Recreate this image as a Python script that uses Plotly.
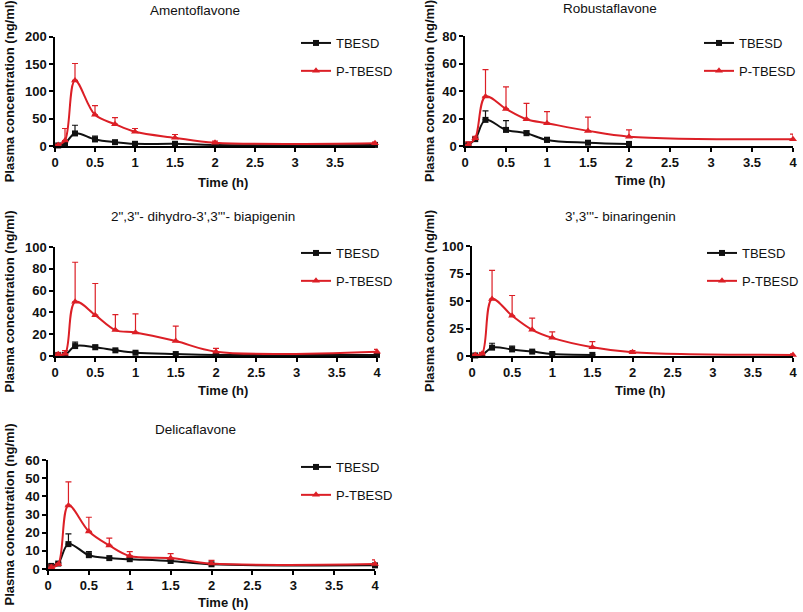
import plotly.graph_objects as go

# ---- data ----
t = [0.04, 0.125, 0.25, 0.5, 0.75, 1, 1.5, 2, 4]

tb_amento = [1, 5, 23, 12, 7, 4, 4, 2, 2]
tb_amento_err = [0.5, 1, 15, 6, 2, 1, 1, 0.5, 0.5]
ptb_amento = [2, 10, 120, 57, 40, 26, 15, 6, 5]
ptb_amento_err = [1, 22, 31, 17, 12, 6, 6, 3, 2]

tb_rob = [1, 5, 19, 11.7, 9.3, 4.4, 2.4, 1.5]
tb_rob_err = [0.5, 1, 6.6, 6.8, 1.7, 1.9, 0.8, 0.4]
ptb_rob = [1, 5.6, 36, 27, 19.5, 16.6, 11, 6.8, 4.9]
ptb_rob_err = [2, 1.5, 19.6, 16, 11.5, 8.4, 10, 4.9, 3.8]

tb_biap = [1, 1, 9.1, 8, 5.2, 3, 1.8, 1, 1]
tb_biap_err = [0.5, 0.5, 3.7, 2, 1, 0.5, 0.5, 0.3, 0.3]
ptb_biap = [1.5, 2, 49.7, 37.5, 23.8, 21.6, 13.7, 4, 4]
ptb_biap_err = [1.5, 3, 36.3, 29, 14.2, 17.1, 13.7, 3, 2]

tb_bin = [0.5, 1, 7.6, 6, 4, 1.8, 1]
tb_bin_err = [0.3, 0.5, 4, 3, 1, 0.5, 0.3]
ptb_bin = [1, 2, 51.8, 36.6, 23.8, 16.5, 8, 3.4, 1]
ptb_bin_err = [0.5, 1, 26, 18.4, 10.7, 5.5, 5, 1.6, 1]

tb_del = [1.7, 3, 13.7, 7.6, 6, 5.4, 4.4, 2.6, 2]
tb_del_err = [0.9, 0.5, 5.6, 2, 0.3, 0.3, 0.8, 0.3, 0.3]
ptb_del = [1, 2.6, 35, 20.7, 13, 7.2, 6, 3, 2.75]
ptb_del_err = [1.2, 0.5, 13, 7.8, 4, 2.4, 2.5, 1.8, 2.25]

titles = ["Amentoflavone", "Robustaflavone", "2\",3\"- dihydro-3',3'''- biapigenin",
          "3',3'''- binaringenin", "Delicaflavone"]
y_max = [200, 80, 100, 100, 60]
y_dtick = [50, 20, 20, 25, 10]
x_ticks = [[0, 0.5, 1, 1.5, 2, 2.5, 3, 3.5]] + [[0, 0.5, 1, 1.5, 2, 2.5, 3, 3.5, 4]] * 4
series_names = ["TBESD", "P-TBESD"]

panels = [
    (tb_amento, tb_amento_err, ptb_amento, ptb_amento_err),
    (tb_rob, tb_rob_err, ptb_rob, ptb_rob_err),
    (tb_biap, tb_biap_err, ptb_biap, ptb_biap_err),
    (tb_bin, tb_bin_err, ptb_bin, ptb_bin_err),
    (tb_del, tb_del_err, ptb_del, ptb_del_err),
]

# ---- layout geometry (screen pixels; body margin removed via post_script) ----
W, H = 803, 612


def fx(px):
    return px / W


def fy(py):
    return 1 - py / H


# plot areas: (x0, x1, ytop, ybottom)
boxes = [(55, 375, 36.7, 146), (465, 793, 36, 146), (55, 377, 247, 356),
         (472, 793, 246, 356), (48, 375, 460, 569)]
title_pos = [(195, 10), (610, 9), (203, 216), (620, 216), (195, 430)]
xtitle_pos = [(223, 182), (640, 180), (223, 390), (640, 390), (223, 602)]
ytitle_x = [9, 429, 9, 429, 9]
legend_pos = [(296, 28), (699, 28), (296, 238), (702, 238), (296, 452)]

RED = "#dc1f26"
BLACK = "#111111"
FONT = "Liberation Sans, Arial, sans-serif"

fig = go.Figure()
layout = dict(width=W, height=H,
              margin=dict(l=0, r=0, t=0, b=0, pad=0, autoexpand=False),
              paper_bgcolor="white", plot_bgcolor="white",
              font=dict(family=FONT, color="#111"), annotations=[])

for i, (tb, tbe, ptb, ptbe) in enumerate(panels):
    n = i + 1
    xa = "x" if n == 1 else f"x{n}"
    ya = "y" if n == 1 else f"y{n}"
    lg = "legend" if n == 1 else f"legend{n}"
    for name, vals, errs, color, sym, size in [
        (series_names[0], tb, tbe, BLACK, "square", 6),
        (series_names[1], ptb, ptbe, RED, "triangle-up", 7),
    ]:
        fig.add_trace(go.Scatter(
            x=t[:len(vals)], y=vals, name=name, mode="lines+markers",
            line=dict(color=color, width=2, shape="spline", smoothing=1),
            marker=dict(symbol=sym, size=size, color=color),
            error_y=dict(type="data", array=errs, arrayminus=[0] * len(errs),
                         symmetric=False, color=color, thickness=1.2, width=3),
            xaxis=xa, yaxis=ya, legend=lg, legendgroup=f"{name}{n}",
            cliponaxis=False,
        ))
    x0, x1, yt, yb = boxes[i]
    axkey = "xaxis" if n == 1 else f"xaxis{n}"
    aykey = "yaxis" if n == 1 else f"yaxis{n}"
    layout[axkey] = dict(domain=[fx(x0), fx(x1)], range=[0, 4], anchor=ya,
                         tickvals=x_ticks[i], ticktext=[f"{v:g}" for v in x_ticks[i]],
                         showline=True, linecolor="black", linewidth=1.5,
                         ticks="outside", ticklen=4, tickwidth=1.5, tickcolor="black",
                         showgrid=False, zeroline=False, automargin=False,
                         tickfont=dict(size=13, family=FONT, weight="bold", color="#111"))
    layout[aykey] = dict(domain=[fy(yb), fy(yt)], range=[0, y_max[i]], anchor=xa,
                         dtick=y_dtick[i], showline=True, linecolor="black", linewidth=1.5,
                         ticks="outside", ticklen=4, tickwidth=1.5, tickcolor="black",
                         showgrid=False, zeroline=False, automargin=False,
                         tickfont=dict(size=13, family=FONT, weight="bold", color="#111"))
    lx, ly = legend_pos[i]
    layout[lg] = dict(x=fx(lx), y=fy(ly), xanchor="left", yanchor="top",
                      bgcolor="rgba(0,0,0,0)", font=dict(size=13, family=FONT, color="#111"),
                      tracegroupgap=8, itemwidth=30)
    tx, ty = title_pos[i]
    layout["annotations"].append(dict(text=titles[i], x=fx(tx), y=fy(ty), xref="paper",
                                      yref="paper", showarrow=False, xanchor="center",
                                      yanchor="middle",
                                      font=dict(size=13.5, family=FONT, color="#111")))
    ax_, ay_ = xtitle_pos[i]
    layout["annotations"].append(dict(text="Time (h)", x=fx(ax_), y=fy(ay_), xref="paper",
                                      yref="paper", showarrow=False, xanchor="center",
                                      yanchor="middle",
                                      font=dict(size=13, family=FONT, weight="bold", color="#111")))
    layout["annotations"].append(dict(text="Plasma concentration (ng/ml)", textangle=-90,
                                      x=fx(ytitle_x[i]), y=fy((yt + yb) / 2),
                                      xref="paper", yref="paper", showarrow=False,
                                      xanchor="center", yanchor="middle",
                                      font=dict(size=13, family=FONT, weight="bold", color="#111")))

fig.update_layout(**layout)
fig.write_html("out.html", config={"displayModeBar": False},
               post_script="document.body.style.margin='0';document.body.style.overflow='hidden';")
